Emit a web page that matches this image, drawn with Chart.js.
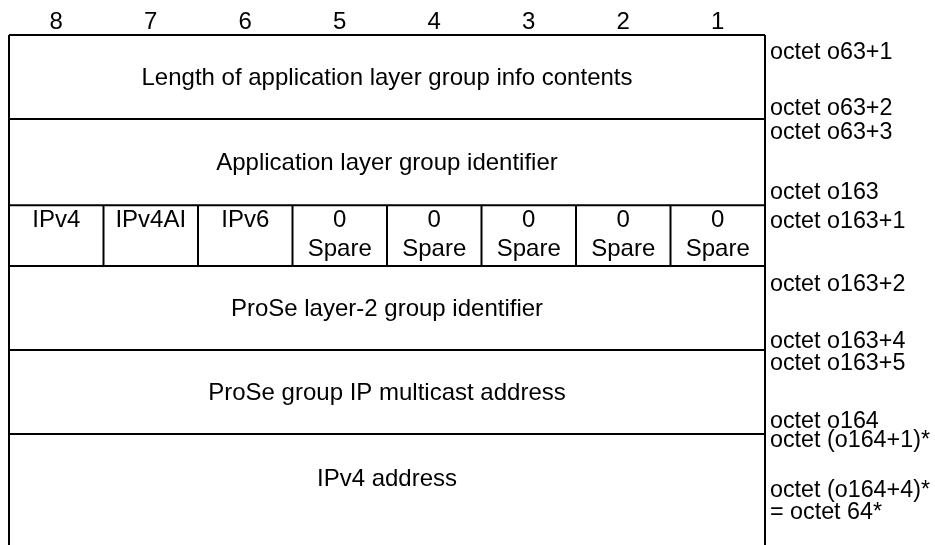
<!DOCTYPE html>
<html>
<head>
<meta charset="utf-8">
<script src="https://cdn.jsdelivr.net/npm/chart.js@4.4.1/dist/chart.umd.min.js"></script>
<style>
  html, body { margin: 0; padding: 0; background: #fff; }
  canvas { display: block; }
</style>
</head>
<body>
<canvas id="octetChart" width="935" height="545"></canvas>
<script>
// ==========================================
// DATA
// ==========================================
const bitNumbers = ['8', '7', '6', '5', '4', '3', '2', '1'];
// row borders on the y scale (last one = nominal end of the open row, not drawn)
const rowEdges = [0, 2, 4.05, 5.5, 7.5, 9.5, 11.6];
const rowTitles = [
    'Length of application layer group info contents',
    'Application layer group identifier',
    '',
    'ProSe layer-2 group identifier',
    'ProSe group IP multicast address',
    'IPv4 address'
];
const flagRow = 2;
const flagNames = ['IPv4', 'IPv4AI', 'IPv6', '0', '0', '0', '0', '0'];
const flagNotes = ['', '', '', 'Spare', 'Spare', 'Spare', 'Spare', 'Spare'];
const octetLabels = [
    'octet o63+1', 'octet o63+2', 'octet o63+3', 'octet o163', 'octet o163+1',
    'octet o163+2', 'octet o163+4', 'octet o163+5', 'octet o164',
    'octet (o164+1)*', 'octet (o164+4)*', '= octet 64*'
];
const octetLabelAt = [0.38, 1.71, 2.29, 3.71, 4.4, 5.9, 7.26, 7.79, 9.17, 9.62, 10.81, 11.33];
const yMax = 12.14;

// ==========================================
// LINE SEGMENTS (built from the arrays above)
// ==========================================
function segment(points) {
    return {
        data: points,
        showLine: true,
        borderColor: '#000',
        borderWidth: 2,
        pointRadius: 0,
        fill: false,
        clip: false
    };
}

const datasets = [];
// horizontal borders (skip the nominal end of the open last row)
rowEdges.slice(0, -1).forEach(y => datasets.push(segment([{ x: 0, y: y }, { x: 8, y: y }])));
// outer verticals, open at the bottom
datasets.push(segment([{ x: 0, y: 0 }, { x: 0, y: yMax }]));
datasets.push(segment([{ x: 8, y: 0 }, { x: 8, y: yMax }]));
// bit separators in the flag row
for (let i = 1; i < bitNumbers.length; i++) {
    datasets.push(segment([{ x: i, y: rowEdges[flagRow] }, { x: i, y: rowEdges[flagRow + 1] }]));
}

// ==========================================
// TEXT PLUGIN
// ==========================================
const FONT_SIZE = 24;
const SIDE_FONT_SIZE = 23.3;

function drawText(ctx, text, x, yCenter, align, size) {
    ctx.font = size + 'px "Liberation Sans", Arial, sans-serif';
    ctx.textAlign = align;
    ctx.fillText(text, x, yCenter + size * 0.345);
}

const textPlugin = {
    id: 'octetText',
    afterDatasetsDraw(chart) {
        const ctx = chart.ctx;
        const xs = chart.scales.x, ys = chart.scales.y;
        ctx.save();
        ctx.fillStyle = '#000';
        ctx.textBaseline = 'alphabetic';

        // bit numbers above the table
        bitNumbers.forEach((b, i) => drawText(ctx, b, xs.getPixelForValue(i + 0.5), 21, 'center', FONT_SIZE));

        // row titles
        rowTitles.forEach((t, r) => {
            if (!t) return;
            const yc = ys.getPixelForValue((rowEdges[r] + rowEdges[r + 1]) / 2);
            drawText(ctx, t, xs.getPixelForValue(4), yc, 'center', FONT_SIZE);
        });

        // flag row
        const top = ys.getPixelForValue(rowEdges[flagRow]);
        flagNames.forEach((n, i) => {
            const xc = xs.getPixelForValue(i + 0.5);
            drawText(ctx, n, xc, top + 14, 'center', FONT_SIZE);
            if (flagNotes[i]) drawText(ctx, flagNotes[i], xc, top + 43, 'center', FONT_SIZE);
        });

        // octet labels on the right
        octetLabels.forEach((t, i) => drawText(ctx, t, xs.right + 5, ys.getPixelForValue(octetLabelAt[i]), 'left', SIDE_FONT_SIZE));
        ctx.restore();
    }
};

// ==========================================
// CHART
// ==========================================
new Chart(document.getElementById('octetChart'), {
    type: 'scatter',
    data: { datasets: datasets },
    options: {
        responsive: false,
        animation: false,
        events: [],
        layout: { padding: { left: 9, right: 170, top: 35, bottom: 0 } },
        scales: {
            x: { type: 'linear', min: 0, max: 8, display: false },
            y: { type: 'linear', min: 0, max: yMax, reverse: true, display: false }
        },
        plugins: { legend: { display: false }, tooltip: { enabled: false } }
    },
    plugins: [textPlugin]
});
</script>
</body>
</html>
